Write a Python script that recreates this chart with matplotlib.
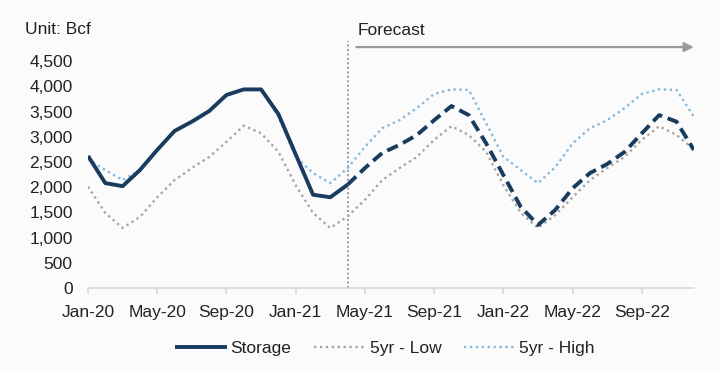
import matplotlib.pyplot as plt
import pandas as pd

plt.rcParams["font.family"] = ["Liberation Sans", "DejaVu Sans"]

months = pd.date_range("2020-01-01", "2022-12-01", freq="MS")
tick_labels = ["Jan-20", "May-20", "Sep-20", "Jan-21", "May-21",
               "Sep-21", "Jan-22", "May-22", "Sep-22"]

# Bcf, Jan-20 .. Apr-21 actual
storage_actual = [2620, 2080, 2020, 2340, 2740, 3115, 3300, 3510, 3830, 3940,
                  3940, 3450, 2650, 1850, 1800, 2050]
# Apr-21 .. Dec-22 forecast
storage_forecast = [2050, 2380, 2680, 2840, 3035, 3330, 3610, 3430, 2870, 2240,
                    1610, 1250, 1550, 1980, 2280, 2460, 2700, 3070, 3430, 3300,
                    2740]
low_5yr = [2010, 1490, 1190, 1410, 1800, 2140, 2380, 2600, 2900, 3220, 3070, 2700,
           2040, 1490, 1190, 1420, 1750, 2140, 2380, 2600, 2940, 3210, 3035, 2700,
           2040, 1490, 1190, 1450, 1800, 2140, 2380, 2600, 2940, 3210, 3035, 2750]
high_5yr = [2560, 2340, 2140, 2340, 2740, 3115, 3300, 3510, 3830, 3940, 3940, 3400,
            2600, 2280, 2080, 2380, 2800, 3170, 3330, 3570, 3850, 3940, 3930, 3270,
            2600, 2340, 2080, 2400, 2870, 3170, 3330, 3570, 3850, 3940, 3930, 3400]

navy = "#183b5e"
bg = "#fbfbfb"

fig = plt.figure(figsize=(7.19, 3.73), dpi=100, facecolor=bg)
ax = fig.add_axes([0.1224, 0.228, 0.8426, 0.662], facecolor=bg)

x = list(range(len(months)))
n_act = len(storage_actual)
x_act = x[:n_act]
x_fc = x[n_act - 1:]

h_low, = ax.plot(x, low_5yr, color="#a6a6a6", lw=1.7, ls=(0, (1, 1.5)), zorder=2,
                 label="5yr - Low")
h_high, = ax.plot(x, high_5yr, color="#86b9de", lw=1.7, ls=(0, (1, 1.5)), zorder=2,
                  label="5yr - High")
h_st, = ax.plot(x_act, storage_actual, color=navy, lw=2.8, zorder=3, label="Storage",
                solid_capstyle="butt")
ax.plot(x_fc, storage_forecast, color=navy, lw=2.8, ls=(0, (3.0, 1.5)), zorder=3)

ax.set_xlim(0, len(months) - 1)
ax.set_ylim(0, 4900)
ax.set_yticks(range(0, 5000, 500))
ax.set_yticklabels([f"{v:,}" for v in range(0, 5000, 500)])
ax.set_xticks(x[::4])
ax.set_xticklabels(tick_labels)

for side in ["left", "right", "top"]:
    ax.spines[side].set_visible(False)
ax.spines["bottom"].set_color("#d9d9d9")
ax.spines["bottom"].set_linewidth(1.2)
ax.tick_params(axis="y", length=0, labelsize=12.5, pad=11, colors="#222222")
ax.tick_params(axis="x", length=4, color="#d9d9d9", width=1.2, labelsize=12.5,
               colors="#222222", pad=8)

# forecast marker
ax.axvline(n_act - 1, color="#999999", lw=1.4, ls=(0, (1, 1.3)), zorder=1)
ax.annotate("", xy=(35, 4780), xytext=(15.5, 4780),
            arrowprops=dict(arrowstyle="-|>", color="#9a9a9a", lw=1.6,
                            mutation_scale=14, shrinkA=0, shrinkB=0),
            annotation_clip=False)
ax.text(15.6, 4960, "Forecast", fontsize=12.5, color="#222222", va="bottom", ha="left",
        clip_on=False)

fig.text(25 / 719, 1 - 30 / 373, "Unit: Bcf", fontsize=12.5, color="#222222",
         va="center", ha="left")

leg = ax.legend([h_st, h_low, h_high], ["Storage", "5yr - Low", "5yr - High"],
                loc="upper center", bbox_to_anchor=(0.49, -0.15), ncol=3, frameon=False,
                fontsize=12.5, handlelength=3.0, handletextpad=0.2, columnspacing=1.3)
for t in leg.get_texts():
    t.set_color("#222222")

fig.savefig("out.png", dpi=100, facecolor=bg)
